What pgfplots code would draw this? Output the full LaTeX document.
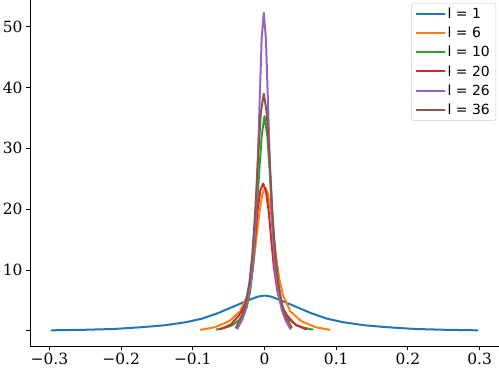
\documentclass[border=0pt]{standalone}
\usepackage{fontspec}
\setmainfont{DejaVu Serif}
\newfontfamily\legfont{DejaVu Sans}
\usepackage{pgfplots}
\pgfplotsset{compat=1.18}

\definecolor{c0}{HTML}{1F77B4}
\definecolor{c1}{HTML}{FF7F0E}
\definecolor{c2}{HTML}{2CA02C}
\definecolor{c3}{HTML}{D62728}
\definecolor{c4}{HTML}{9467BD}
\definecolor{c5}{HTML}{8C564B}

\pgfplotsset{kline/.style={line width=2bp, line join=round, line cap=round}}

\begin{document}
\begin{tikzpicture}
\begin{axis}[
    scale only axis,
    width=469bp, height=346bp,
    xmin=-0.327, xmax=0.327,
    ymin=-2.5, ymax=54.4,
    axis x line*=bottom, axis y line*=left,
    axis line style={line width=0.9bp, -},
    tick align=outside,
    tick style={black, line width=0.9bp, major tick length=4bp},
    xtick={-0.3,-0.2,-0.1,0,0.1,0.2,0.3},
    xticklabels={−0.3,−0.2,−0.1,0,0.1,0.2,0.3},
    ytick={0,10,20,30,40,50},
    yticklabels={,10,20,30,40,50},
    /pgf/number format/assume math mode=true,
    tick label style={font=\fontsize{15.5}{17}\selectfont},
    legend cell align=left,
    legend image code/.code={\draw[#1] (0bp,0bp) -- (28bp,0bp);},
    legend style={at={(1,1)}, xshift=-3bp, yshift=-3bp, anchor=north east,
        font=\legfont\fontsize{14}{15}\selectfont,
        draw=black!20, rounded corners=2bp, row sep=3bp,
        inner xsep=4bp, inner ysep=3bp},
]
\addplot[kline, c0] coordinates {
(-0.297,0.08) (-0.25,0.17) (-0.21,0.3) (-0.17,0.6) (-0.14,0.9) (-0.11,1.4)
(-0.087,2.0) (-0.065,2.9) (-0.045,3.9) (-0.025,4.9) (-0.01,5.6) (0,5.8)
(0.01,5.6) (0.025,4.9) (0.045,3.9) (0.065,2.9) (0.087,2.0) (0.11,1.4)
(0.14,0.9) (0.17,0.6) (0.21,0.3) (0.25,0.17) (0.297,0.08)
};
\addlegendentry{l = 1}
\addplot[kline, c1] coordinates {
(-0.089,0.15) (-0.069,0.6) (-0.049,1.6) (-0.034,3.2) (-0.024,5.8) (-0.019,8.3)
(-0.015,11.5) (-0.011,15.5) (-0.007,19.5) (-0.003,22.5) (0.001,23.6)
(0.005,22.5) (0.009,19.5) (0.013,15.5) (0.017,11.5) (0.021,8.3) (0.026,5.8)
(0.036,3.2) (0.051,1.6) (0.071,0.6) (0.091,0.15)
};
\addlegendentry{l = 6}
\addplot[kline, c2] coordinates {
(-0.067,0.2) (-0.055,0.5) (-0.045,0.9) (-0.035,1.8) (-0.025,3.8) (-0.02,6.5)
(-0.016,10.5) (-0.012,17) (-0.008,25) (-0.004,32) (0,35.3)
(0.004,32) (0.008,25) (0.012,17) (0.016,10.5) (0.02,6.5) (0.025,3.8)
(0.035,1.8) (0.045,0.9) (0.055,0.5) (0.067,0.2)
};
\addlegendentry{l = 10}
\addplot[kline, c3] coordinates {
(-0.062,0.25) (-0.047,1.0) (-0.035,2.6) (-0.027,4.3) (-0.022,6.5) (-0.017,10.5)
(-0.013,15.5) (-0.010,19.5) (-0.006,23) (-0.002,24.2) (0.002,23) (0.006,19.5)
(0.009,15.5) (0.013,10.5) (0.018,6.5) (0.023,4.3) (0.031,2.6) (0.043,1.0)
(0.058,0.25)
};
\addlegendentry{l = 20}
\addplot[kline, c4] coordinates {
(-0.038,0.3) (-0.031,1.8) (-0.026,3.5) (-0.021,6.3) (-0.017,10) (-0.013,16.6)
(-0.011,22) (-0.0075,35) (-0.004,48) (-0.001,52.3) (0.002,48) (0.0055,35)
(0.009,22) (0.011,16.6) (0.015,10) (0.019,6.3) (0.024,3.5) (0.029,1.8)
(0.036,0.3)
};
\addlegendentry{l = 26}
\addplot[kline, c5] coordinates {
(-0.040,0.5) (-0.031,2.5) (-0.026,4.6) (-0.021,8) (-0.017,12.5) (-0.013,19.5)
(-0.009,28.5) (-0.005,36) (-0.001,39) (0.003,36) (0.007,28.5) (0.011,19.5)
(0.015,12.5) (0.019,8) (0.024,4.6) (0.029,2.5) (0.038,0.5)
};
\addlegendentry{l = 36}
\end{axis}
\pgfresetboundingbox
\path (current axis.south west) ++(-30bp,-29bp) rectangle (current axis.north east);
\end{tikzpicture}
\end{document}
